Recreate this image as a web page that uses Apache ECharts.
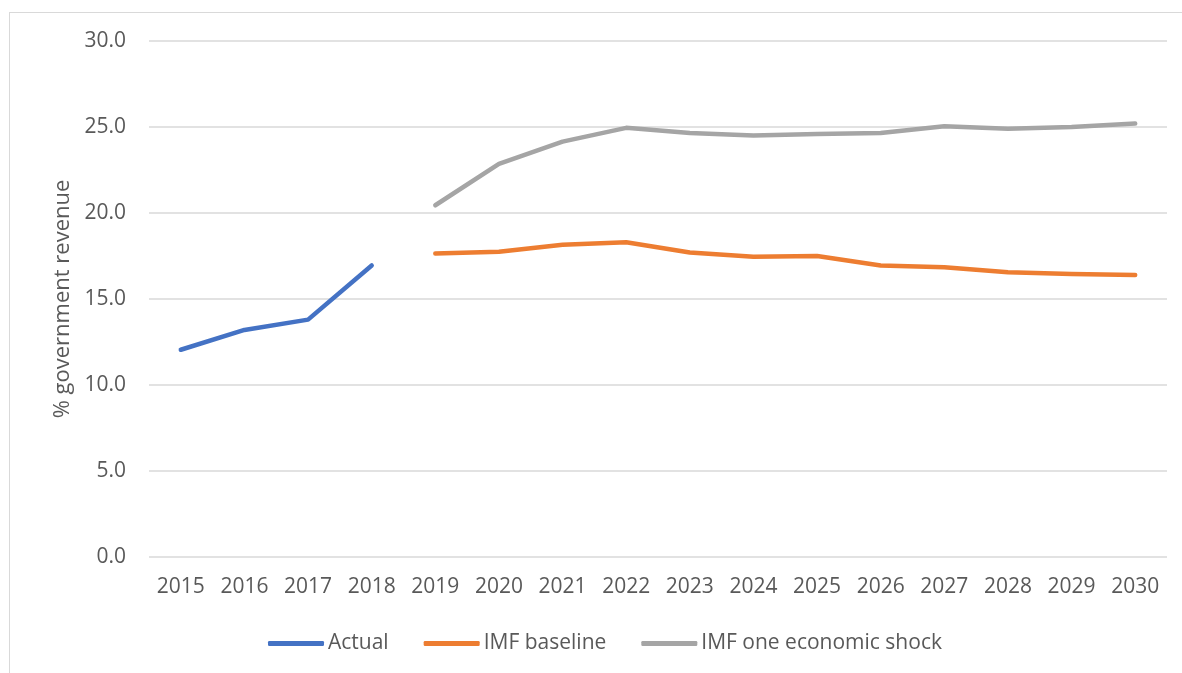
<!DOCTYPE html>
<html>
<head>
<meta charset="utf-8">
<script src="https://cdn.jsdelivr.net/npm/echarts@6/dist/echarts.min.js"></script>
<style>
  html, body { margin: 0; padding: 0; background: #fff; }
  #frame { position: absolute; left: 9px; top: 12px; width: 1180px; height: 670px; border: 1px solid #d9d9d9; }
  #chart { position: absolute; left: 0; top: 0; width: 1182px; height: 673px; }
</style>
</head>
<body>
<div id="frame"></div>
<div id="chart"></div>
<script>
// Years on the category axis
const years = ['2015','2016','2017','2018','2019','2020','2021','2022','2023','2024','2025','2026','2027','2028','2029','2030'];

// Government revenue shares (%), null where a series has no value
const actual      = [12.05, 13.2, 13.8, 16.95, null, null, null, null, null, null, null, null, null, null, null, null];
const imfBaseline = [null, null, null, null, 17.65, 17.75, 18.15, 18.3, 17.7, 17.45, 17.5, 16.95, 16.85, 16.55, 16.45, 16.4];
const imfShock    = [null, null, null, null, 20.45, 22.85, 24.15, 24.95, 24.65, 24.5, 24.6, 24.65, 25.05, 24.9, 25.0, 25.2];

const seriesNames = ['Actual', 'IMF baseline', 'IMF one economic shock'];
const colors = ['#4472c4', '#ed7d31', '#a5a5a5'];
const FONT = 'Open Sans';

const chart = echarts.init(document.getElementById('chart'), null, { renderer: 'canvas' });

function lineSeries(name, data, color) {
  return {
    name: name,
    type: 'line',
    data: data,
    showSymbol: false,
    symbol: 'none',
    connectNulls: false,
    lineStyle: { color: color, width: 4.5, cap: 'round', join: 'round' },
    itemStyle: { color: color },
    emphasis: { disabled: true },
    animation: false
  };
}

chart.setOption({
  animation: false,
  textStyle: { fontFamily: FONT },
  grid: { left: 149, right: 15, top: 41, bottom: 116 },
  xAxis: {
    type: 'category',
    data: years,
    boundaryGap: true,
    axisLine: { show: false },
    axisTick: { show: false },
    axisLabel: { color: '#595959', fontSize: 21, fontFamily: FONT, margin: 20 }
  },
  yAxis: {
    type: 'value',
    min: 0,
    max: 30,
    interval: 5,
    name: '% government revenue',
    nameLocation: 'middle',
    nameGap: 75,
    nameTextStyle: { color: '#595959', fontSize: 22, fontFamily: FONT },
    axisLine: { show: false },
    axisTick: { show: false },
    axisLabel: { color: '#595959', fontSize: 21, fontFamily: FONT, margin: 23, formatter: v => v.toFixed(1) },
    splitLine: { lineStyle: { color: '#d9d9d9', width: 1.5 } }
  },
  legend: {
    data: seriesNames,
    left: 263,
    top: 628,
    itemWidth: 56,
    itemHeight: 5,
    itemGap: 35,
    icon: 'roundRect',
    textStyle: { color: '#595959', fontSize: 21, fontFamily: FONT, padding: [0, 0, 0, -1] },
    selectedMode: false
  },
  series: [
    lineSeries(seriesNames[0], actual, colors[0]),
    lineSeries(seriesNames[1], imfBaseline, colors[1]),
    lineSeries(seriesNames[2], imfShock, colors[2])
  ]
});
</script>
</body>
</html>
